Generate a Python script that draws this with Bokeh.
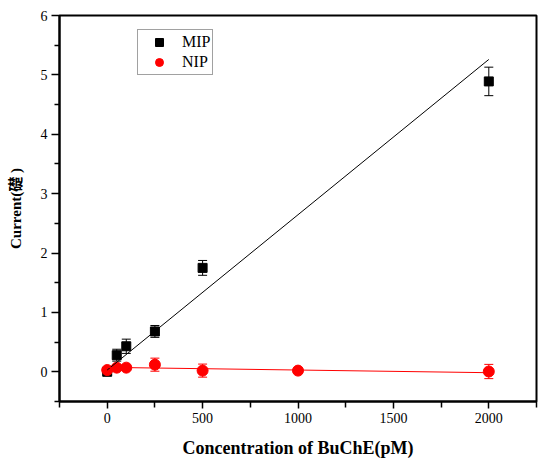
from bokeh.plotting import figure
from bokeh.models import (Range1d, FixedTicker, ColumnDataSource, Whisker, TeeHead,
                          Legend, LegendItem)
from bokeh.embed import file_html
from bokeh.resources import INLINE

# ---- data ----
mip_x = [0, 50, 100, 250, 500, 2000]
mip_y = [0.0, 0.28, 0.43, 0.68, 1.75, 4.89]
mip_err = [0.03, 0.10, 0.12, 0.10, 0.125, 0.24]

nip_x = [0, 50, 100, 250, 500, 1000, 2000]
nip_y = [0.03, 0.07, 0.07, 0.12, 0.02, 0.02, 0.005]
nip_err = [0.02, 0.02, 0.02, 0.11, 0.11, 0.02, 0.12]

# linear fits (intercept, slope)
mip_fit = (0.03, 0.002615)
nip_fit = (0.075, -0.000045)
fit_x = [0, 2000]

x_ticks = [0, 500, 1000, 1500, 2000]
x_minor = [-250, 250, 750, 1250, 1750, 2250]
y_ticks = [0, 1, 2, 3, 4, 5, 6]
y_minor = [-0.5, 0.5, 1.5, 2.5, 3.5, 4.5, 5.5]

SERIF = "'Liberation Serif', serif"
CJK = "'Liberation Serif', 'Noto Sans CJK SC', serif"

p = figure(width=550, height=464, output_backend="svg", toolbar_location=None,
           x_range=Range1d(-250, 2250), y_range=Range1d(-0.5, 6),
           min_border_left=59, min_border_top=15, min_border_right=14, min_border_bottom=63)
p.xgrid.visible = False
p.ygrid.visible = False
p.outline_line_color = "black"
p.outline_line_width = 2
p.background_fill_color = "white"
p.border_fill_color = "white"

mip_src = ColumnDataSource(dict(x=mip_x, y=mip_y,
                                upper=[a + b for a, b in zip(mip_y, mip_err)],
                                lower=[a - b for a, b in zip(mip_y, mip_err)]))
nip_src = ColumnDataSource(dict(x=nip_x, y=nip_y,
                                upper=[a + b for a, b in zip(nip_y, nip_err)],
                                lower=[a - b for a, b in zip(nip_y, nip_err)]))

p.add_layout(Whisker(source=mip_src, base="x", upper="upper", lower="lower",
                     line_color="black", line_width=1,
                     upper_head=TeeHead(size=9, line_color="black", line_width=1),
                     lower_head=TeeHead(size=9, line_color="black", line_width=1)))
sq = p.scatter("x", "y", source=mip_src, marker="square", size=9,
               fill_color="black", line_color="black")

p.add_layout(Whisker(source=nip_src, base="x", upper="upper", lower="lower",
                     line_color="red", line_width=1,
                     upper_head=TeeHead(size=9, line_color="red", line_width=1),
                     lower_head=TeeHead(size=9, line_color="red", line_width=1)))
ci = p.scatter("x", "y", source=nip_src, marker="circle", size=11,
               fill_color="red", line_color="red")

p.line(fit_x, [mip_fit[0] + mip_fit[1] * v for v in fit_x], line_color="black", line_width=1)
p.line(fit_x, [nip_fit[0] + nip_fit[1] * v for v in fit_x], line_color="red", line_width=1)

for ax in (p.xaxis[0], p.yaxis[0]):
    ax.axis_line_width = 2
    ax.axis_line_color = "black"
    ax.major_tick_line_color = "black"
    ax.minor_tick_line_color = "black"
    ax.major_tick_line_width = 1.5
    ax.minor_tick_line_width = 1.5
    ax.major_tick_in = 0
    ax.minor_tick_in = 0
    ax.major_label_text_font = SERIF
    ax.major_label_text_font_size = "14px"
    ax.major_label_text_color = "black"
    ax.major_label_standoff = 4
    ax.axis_label_text_font = CJK
    ax.axis_label_text_font_style = "bold"
    ax.axis_label_text_color = "black"

p.xaxis[0].ticker = FixedTicker(ticks=x_ticks, minor_ticks=x_minor)
p.xaxis[0].major_tick_out = 7
p.xaxis[0].minor_tick_out = 6
p.xaxis[0].axis_label = "Concentration of BuChE(pM)"
p.xaxis[0].axis_label_text_font_size = "18px"
p.xaxis[0].axis_label_standoff = 12

p.yaxis[0].ticker = FixedTicker(ticks=y_ticks, minor_ticks=y_minor)
p.yaxis[0].major_tick_out = 8
p.yaxis[0].minor_tick_out = 5
p.yaxis[0].axis_label = "Current(礎 )"
p.yaxis[0].axis_label_text_font_size = "15px"
p.yaxis[0].axis_label_standoff = 14

legend = Legend(items=[LegendItem(label="MIP", renderers=[sq]),
                       LegendItem(label="NIP", renderers=[ci])],
                location=(78, 326), orientation="vertical",
                glyph_width=38, glyph_height=20, label_height=20,
                label_standoff=4, padding=2, spacing=0, margin=0,
                label_text_font=SERIF, label_text_font_size="16px",
                label_text_color="black",
                border_line_color="#444444", border_line_width=1,
                background_fill_color="white", background_fill_alpha=1)
p.add_layout(legend)

open("out.html", "w").write(file_html(p, INLINE))
